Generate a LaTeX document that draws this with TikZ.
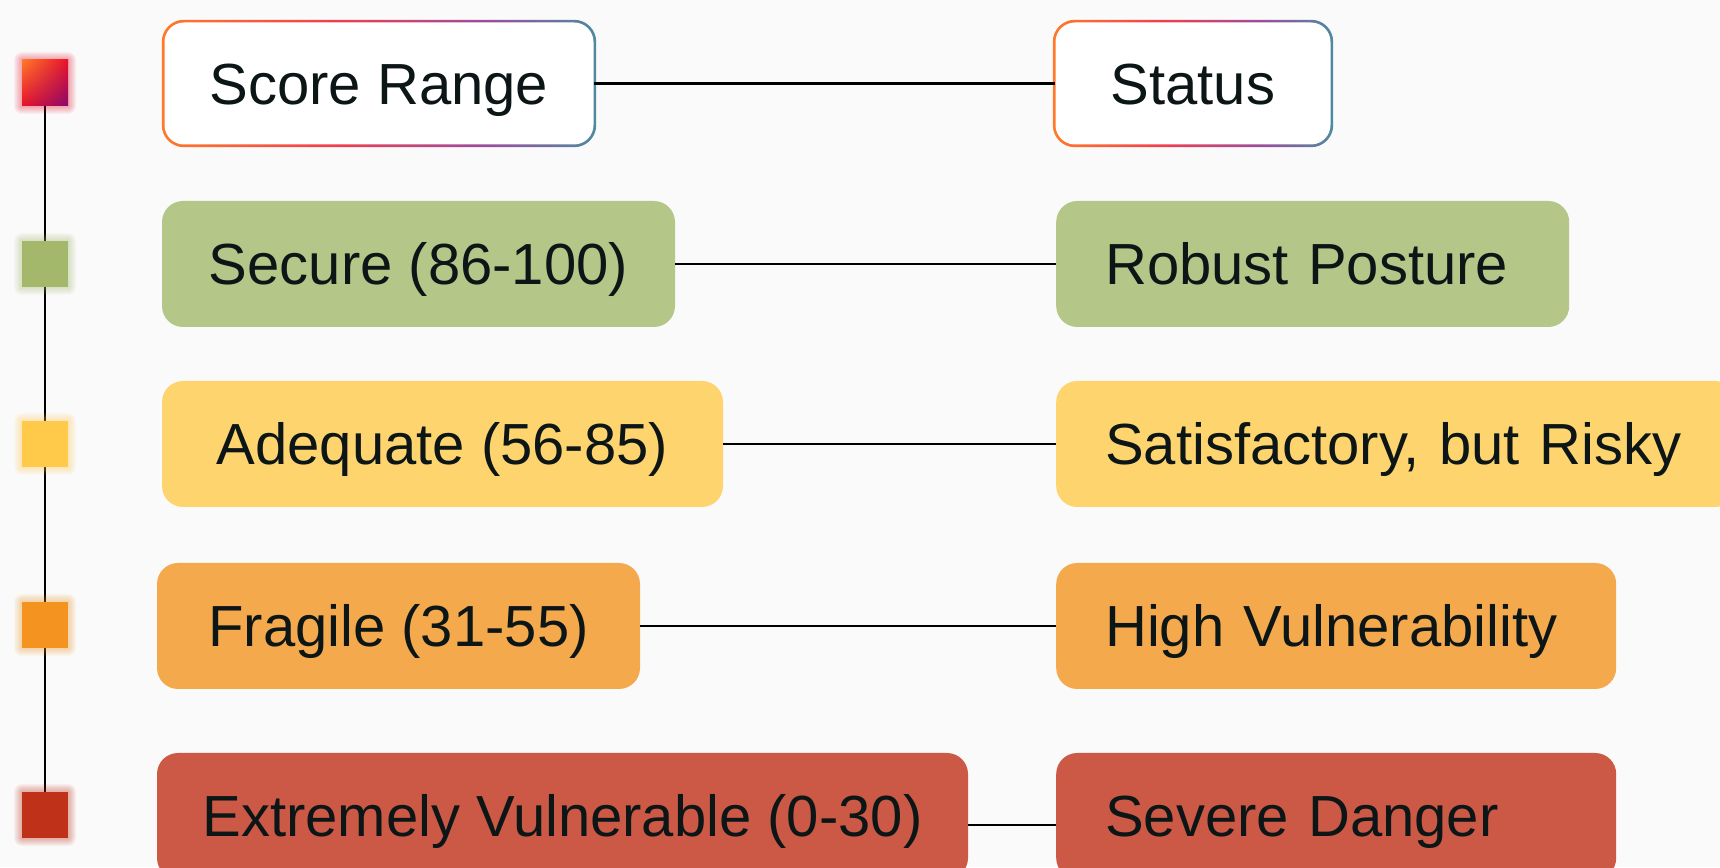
\documentclass[tikz,border=0pt]{standalone}
\usepackage{fontspec}
\setmainfont{Liberation Sans}
\usetikzlibrary{backgrounds,shadings}
\definecolor{bg}{HTML}{FAFAFA}
\definecolor{ink}{HTML}{0D1616}
\definecolor{gOr}{HTML}{FF7A2A}
\definecolor{gRed}{HTML}{F03E4E}
\definecolor{gPur}{HTML}{9C4C9E}
\definecolor{gTeal}{HTML}{4E8AA0}
\definecolor{bGreen}{HTML}{B4C788}
\definecolor{bYellow}{HTML}{FED46F}
\definecolor{bOrange}{HTML}{F5A94D}
\definecolor{bRed}{HTML}{CB5946}
\definecolor{sGreen}{HTML}{A3B86A}
\definecolor{sYellow}{HTML}{FFC94A}
\definecolor{sOrange}{HTML}{F4931F}
\definecolor{sRed}{HTML}{C0311A}
\definecolor{sTop}{HTML}{E8102A}
\definecolor{sTopPur}{HTML}{8A0A6E}
\pgfdeclarehorizontalshading{hdrgrad}{100bp}{color(0bp)=(gOr); color(25bp)=(gOr); color(45bp)=(gRed); color(62bp)=(gPur); color(75bp)=(gTeal); color(100bp)=(gTeal)}
\newcommand\sqglow[3]{\foreach \i in {1,...,8}{\fill[#3, opacity=0.05, rounded corners=\i pt] ([shift={(-23-\i,-23-\i)}]#1,#2) rectangle ([shift={(23+\i,23+\i)}]#1,#2);}}
\tikzset{
  box/.style={rounded corners=21pt, minimum height=126pt, inner ysep=0pt, text=ink, anchor=center, text height=41.5pt, text depth=0pt},
  lbox/.style={box, minimum width=#1, inner xsep=0pt},
  rbox/.style={box, anchor=west, text width=#1, align=left, inner xsep=49pt},
  hdr/.style={box, fill=white, minimum width=#1, minimum height=122pt, inner xsep=0pt, rounded corners=19.5pt},
  sq/.style={minimum width=46pt, minimum height=46pt, inner sep=0pt, draw=none},
  link/.style={draw=black, line width=2.5pt},
}
\begin{document}
\begin{tikzpicture}[x=1pt,y=1pt,font=\fontsize{58}{62}\selectfont]
\useasboundingbox (0,0) rectangle (1720,867);
\clip (0,0) rectangle (1720,867);
\begin{pgfonlayer}{background}
\fill[bg] (0,0) rectangle (1720,867);
\end{pgfonlayer}
% glows
\sqglow{45}{784}{sTop}
\sqglow{45}{603}{sGreen}
\sqglow{45}{423}{sYellow}
\sqglow{45}{242}{sOrange}
\sqglow{45}{52}{sRed}
% squares
\node[sq, shade, upper left=gOr, upper right=sTop, lower left=sTop, lower right=sTopPur] (q1) at (45,784) {};
\node[sq, fill=sGreen] (q2) at (45,603) {};
\node[sq, fill=sYellow] (q3) at (45,423) {};
\node[sq, fill=sOrange] (q4) at (45,242) {};
\node[sq, fill=sRed] (q5) at (45,52) {};
% headers
\node[hdr=429pt] (h1) at (379,783.5) {Score Range};
\node[hdr=275pt] (h2) at (1193,783.5) {Status};
\begin{pgfonlayer}{background}
\shade[shading=hdrgrad, rounded corners=22pt] ([shift={(-2.5,-2.5)}]h1.south west) rectangle ([shift={(2.5,2.5)}]h1.north east);
\shade[shading=hdrgrad, rounded corners=22pt] ([shift={(-2.5,-2.5)}]h2.south west) rectangle ([shift={(2.5,2.5)}]h2.north east);
\draw[link] (q1.south) -- (q5.north);
\end{pgfonlayer}
% rows
\node[lbox=513pt, fill=bGreen] (e2) at (418.5,603) {Secure (86-100)};
\node[rbox=415pt, fill=bGreen] (r2) at (1056,603) {Robust Posture};
\node[lbox=561pt, fill=bYellow] (e3) at (442.5,423) {Adequate (56-85)};
\node[rbox=582pt, fill=bYellow] (r3) at (1056,423) {Satisfactory, but Risky};
\node[lbox=483pt, fill=bOrange] (e4) at (398.5,241) {Fragile (31-55)};
\node[rbox=462pt, fill=bOrange] (r4) at (1056,241) {High Vulnerability};
\node[lbox=811pt, fill=bRed] (e5) at (562.5,51) {Extremely Vulnerable (0-30)};
\node[rbox=462pt, fill=bRed] (r5) at (1056,51) {Severe Danger};
% connectors
\draw[link] (h1.east) -- (h2.west);
\draw[link] (e2.east) -- (r2.west);
\draw[link] (e3.east) -- (r3.west);
\draw[link] (e4.east) -- (r4.west);
\draw[link] ([yshift=-9pt]e5.east) -- ([yshift=-9pt]r5.west);
\end{tikzpicture}
\end{document}
